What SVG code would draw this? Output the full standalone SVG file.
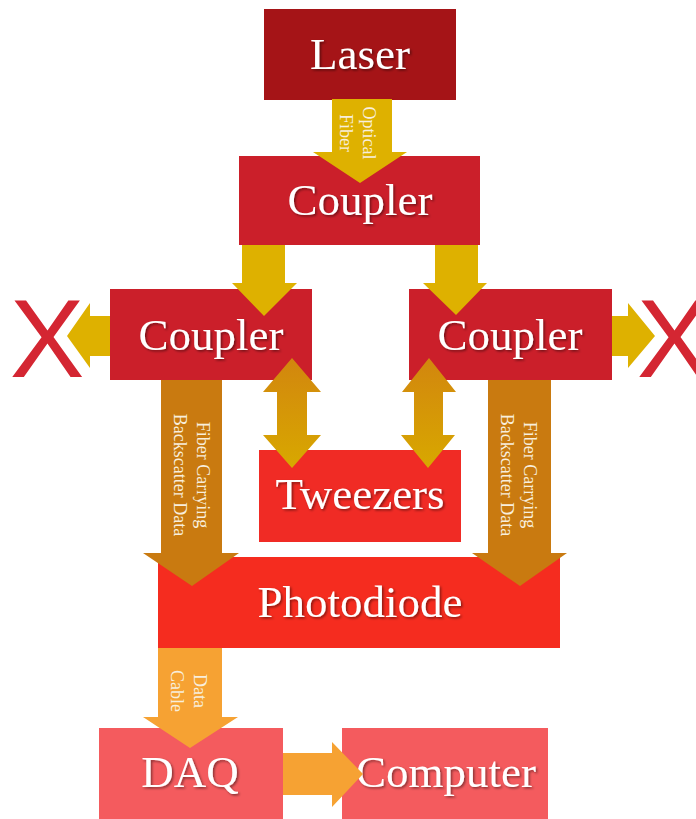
<svg xmlns="http://www.w3.org/2000/svg" width="696" height="819" viewBox="0 0 696 819">
  <defs>
    <filter id="shadow" x="-10%" y="-20%" width="130%" height="150%">
      <feDropShadow dx="1.5" dy="1.5" stdDeviation="1" flood-color="#000" flood-opacity="0.45"/>
    </filter>
    <linearGradient id="dbl" x1="0" y1="0" x2="0" y2="1">
      <stop offset="0" stop-color="#D2860E"/>
      <stop offset="1" stop-color="#D8A800"/>
    </linearGradient>
    <style>
      .big { font-family: "Liberation Serif", "Times New Roman", serif; font-size: 45px; fill: #ffffff; text-anchor: middle; filter: url(#shadow); }
      .lbl { font-family: "Liberation Serif", "Times New Roman", serif; font-size: 18px; fill: #F8EEDC; text-anchor: middle; }
      .cross { font-family: "Liberation Sans", Arial, sans-serif; font-size: 112px; fill: #D42632; text-anchor: middle; }
      .gold { fill: #DEB100; }
      .brown { fill: #C97A10; }
      .light { fill: #F6A233; }
    </style>
  </defs>
  <rect width="696" height="819" fill="#ffffff"/>

  <!-- boxes -->
  <g id="laser"><rect x="264" y="9" width="192" height="91" fill="#A51417"/><text class="big" x="360" y="69">Laser</text></g>
  <g id="coupler-top"><rect x="239" y="156" width="241" height="89" fill="#CB1F2A"/><text class="big" x="360" y="215">Coupler</text></g>
  <g id="coupler-left"><rect x="110" y="289" width="202" height="91" fill="#CB1F2A"/><text class="big" x="211" y="350">Coupler</text></g>
  <g id="coupler-right"><rect x="409" y="289" width="203" height="91" fill="#CB1F2A"/><text class="big" x="510" y="350">Coupler</text></g>
  <g id="tweezers"><rect x="259" y="450" width="202" height="92" fill="#F02B25"/><text class="big" x="360" y="509">Tweezers</text></g>
  <g id="photodiode"><rect x="158" y="557" width="402" height="91" fill="#F52C1F"/><text class="big" x="360" y="617">Photodiode</text></g>
  <g id="daq"><rect x="99" y="728" width="184" height="91" fill="#F45B5E"/><text class="big" x="190" y="787">DAQ</text></g>
  <g id="computer"><rect x="342" y="728" width="206" height="91" fill="#F45B5E"/><text class="big" x="446" y="787">Computer</text></g>

  <!-- dead ends -->
  <g id="end-left"><text class="cross" x="47" y="377">X</text></g>
  <g id="end-right"><text class="cross" x="674" y="377">X</text></g>

  <!-- connectors -->
  <g id="connectors">
    <!-- laser to coupler -->
    <polygon class="gold" points="332,99 392,99 392,152 407,152 360,183 313,152 332,152"/>
    <text class="lbl" transform="translate(360,133) rotate(90)"><tspan x="0" y="-3">Optical</tspan><tspan x="0" y="20">Fiber</tspan></text>

    <!-- top coupler to lower couplers -->
    <polygon class="gold" points="242,245 285,245 285,283 297,283 264,316 232,283 242,283"/>
    <polygon class="gold" points="435,245 478,245 478,283 487,283 456,315 423,283 435,283"/>

    <!-- couplers to dead ends -->
    <polygon class="gold" points="110,316 90,316 90,303 67,336 90,368 90,356 110,356"/>
    <polygon class="gold" points="612,316 628,316 628,303 655,336 628,368 628,356 612,356"/>

    <!-- couplers to tweezers (two-way) -->
    <polygon fill="url(#dbl)" points="292,358 321,392 307,392 307,435 321,435 292,468 263,435 277,435 277,392 263,392"/>
    <polygon fill="url(#dbl)" points="429,358 456,392 443,392 443,435 455,435 428,468 401,435 414,435 414,392 402,392"/>

    <!-- backscatter fibers to photodiode -->
    <polygon class="brown" points="161,380 222,380 222,553 239,553 192,586 143,553 161,553"/>
    <text class="lbl" transform="translate(191,475) rotate(90)"><tspan x="0" y="-6">Fiber Carrying</tspan><tspan x="0" y="17">Backscatter Data</tspan></text>
    <polygon class="brown" points="488,380 551,380 551,553 567,553 520,586 472,553 488,553"/>
    <text class="lbl" transform="translate(518,475) rotate(90)"><tspan x="0" y="-6">Fiber Carrying</tspan><tspan x="0" y="17">Backscatter Data</tspan></text>

    <!-- photodiode to DAQ -->
    <polygon class="light" points="158,648 222,648 222,717 238,717 190,748 143,717 158,717"/>
    <text class="lbl" transform="translate(189,691) rotate(90)"><tspan x="0" y="-5">Data</tspan><tspan x="0" y="18">Cable</tspan></text>

    <!-- DAQ to computer -->
    <polygon class="light" points="283,753 332,753 332,742 363,774 332,807 332,795 283,795"/>
  </g>
</svg>
